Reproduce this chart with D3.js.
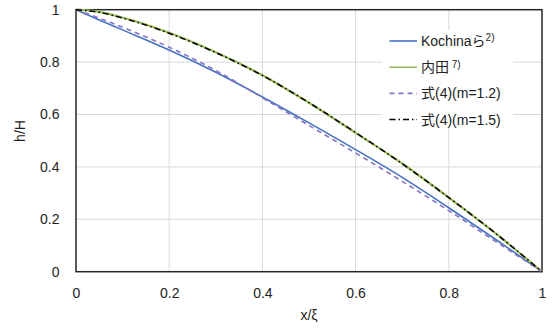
<!DOCTYPE html>
<html>
<head>
<meta charset="utf-8">
<script src="https://cdn.jsdelivr.net/npm/d3@7"></script>
<style>
	body { margin: 0; background: #fff; }
	svg text { font-family: "Liberation Sans", Arial, "Noto Sans CJK JP", sans-serif; fill: #222; }
</style>
</head>
<body>
<div id="chart"></div>
<script>
////////////////////////////////////////////////////////////
//////////////////////// Data //////////////////////////////
////////////////////////////////////////////////////////////

var xVals   = [0, 0.05, 0.1, 0.2, 0.3, 0.4, 0.5, 0.6, 0.7, 0.8, 0.9, 1];
//h/H for each series
var kochina = [1, 0.961, 0.923, 0.846, 0.761, 0.667, 0.568, 0.466, 0.360, 0.244, 0.124, 0];
var uchida  = [1, 0.992, 0.970, 0.912, 0.838, 0.750, 0.645, 0.530, 0.413, 0.283, 0.147, 0];
var eqM12   = [1, 0.968, 0.933, 0.857, 0.768, 0.664, 0.558, 0.453, 0.345, 0.233, 0.116, 0];
var eqM15   = [1, 0.990, 0.968, 0.910, 0.836, 0.749, 0.645, 0.531, 0.412, 0.283, 0.147, 0];

var xTicks = [0, 0.2, 0.4, 0.6, 0.8, 1];
var yTicks = [0, 0.2, 0.4, 0.6, 0.8, 1];

////////////////////////////////////////////////////////////
//////////////////////// Set-up ////////////////////////////
////////////////////////////////////////////////////////////

var w = 555, h = 333;
var margin = {top: 9.7, right: 13, bottom: 61.3, left: 76},
	width = w - margin.left - margin.right,
	height = h - margin.top - margin.bottom;

var x = d3.scaleLinear().domain([0, 1]).range([0, width]);
var y = d3.scaleLinear().domain([0, 1]).range([height, 0]);

var series = [
	{name: "Kochinaら", sup: "2)", values: kochina, color: "#4472C4", dash: null, width: 1.6},
	{name: "内田", sup: " 7)", values: uchida, color: "#9BBB59", dash: null, width: 2.2},
	{name: "式(4)(m=1.2)", sup: "", values: eqM12, color: "#8A72C2", dash: "5,4", width: 1.6},
	{name: "式(4)(m=1.5)", sup: "", values: eqM15, color: "#000", dash: "6,3,1.5,3", width: 1.5}
];

var svg = d3.select("#chart").append("svg")
	.attr("width", w)
	.attr("height", h)
  .append("g")
	.attr("transform", "translate(" + margin.left + "," + margin.top + ")");

//Gridlines
svg.append("g").selectAll("line.gx")
	.data(xTicks.slice(1, -1))
	.enter().append("line")
	.attr("x1", function(d) { return x(d); })
	.attr("x2", function(d) { return x(d); })
	.attr("y1", 0).attr("y2", height)
	.style("stroke", "#d9d9d9").style("stroke-width", 1);

svg.append("g").selectAll("line.gy")
	.data(yTicks.slice(1, -1))
	.enter().append("line")
	.attr("y1", function(d) { return y(d); })
	.attr("y2", function(d) { return y(d); })
	.attr("x1", 0).attr("x2", width)
	.style("stroke", "#d9d9d9").style("stroke-width", 1);

//Axes (labels only, frame drawn separately)
var fmt = d3.format("~g");
var xAxis = svg.append("g")
	.attr("transform", "translate(0," + height + ")")
	.call(d3.axisBottom(x).tickValues(xTicks).tickFormat(fmt).tickSize(0).tickPadding(16.5));
var yAxis = svg.append("g")
	.call(d3.axisLeft(y).tickValues(yTicks).tickFormat(fmt).tickSize(0).tickPadding(16.5));
[xAxis, yAxis].forEach(function(a) {
	a.select(".domain").remove();
	a.selectAll("text").style("font-size", "14px").style("font-family", null);
});

//Frame
svg.append("rect")
	.attr("x", 0).attr("y", 0)
	.attr("width", width).attr("height", height)
	.style("fill", "none")
	.style("stroke", "#262626")
	.style("stroke-width", 1.5);

//Lines
var line = d3.line()
	.x(function(d) { return x(d[0]); })
	.y(function(d) { return y(d[1]); })
	.curve(d3.curveMonotoneX);

svg.append("g").selectAll("path.series")
	.data(series)
	.enter().append("path")
	.attr("d", function(s) { return line(xVals.map(function(v, i) { return [v, s.values[i]]; })); })
	.style("fill", "none")
	.style("stroke", function(s) { return s.color; })
	.style("stroke-width", function(s) { return s.width; })
	.style("stroke-dasharray", function(s) { return s.dash; });

//Axis titles
svg.append("text")
	.attr("x", width / 2)
	.attr("y", 320 - margin.top)
	.style("text-anchor", "middle")
	.style("font-size", "14px")
	.text("x/ξ");

svg.append("text")
	.attr("transform", "translate(" + (25 - margin.left) + "," + (131 - margin.top) + ") rotate(-90)")
	.style("text-anchor", "middle")
	.style("font-size", "14px")
	.text("h/H");

////////////////////////////////////////////////////////////
//////////////////////// Legend ////////////////////////////
////////////////////////////////////////////////////////////

var legend = svg.append("g")
	.attr("transform", "translate(" + (382 - margin.left) + "," + (30 - margin.top) + ")");

legend.append("rect")
	.attr("width", 131).attr("height", 97)
	.style("fill", "#fff");

var items = legend.selectAll(".item")
	.data(series)
	.enter().append("g")
	.attr("transform", function(d, i) { return "translate(0," + (11 + i * 26.2) + ")"; });

items.append("line")
	.attr("x1", 7.5).attr("x2", 35)
	.style("stroke", function(s) { return s.color; })
	.style("stroke-width", function(s) { return Math.min(s.width, 1.6); })
	.style("stroke-dasharray", function(s) { return s.dash; });

var label = items.append("text")
	.attr("x", 39)
	.attr("dy", "0.35em")
	.style("font-size", "14px");
label.append("tspan").text(function(s) { return s.name; });
label.append("tspan")
	.attr("dy", "-0.45em")
	.style("font-size", "10px")
	.text(function(s) { return s.sup; });
</script>
</body>
</html>
